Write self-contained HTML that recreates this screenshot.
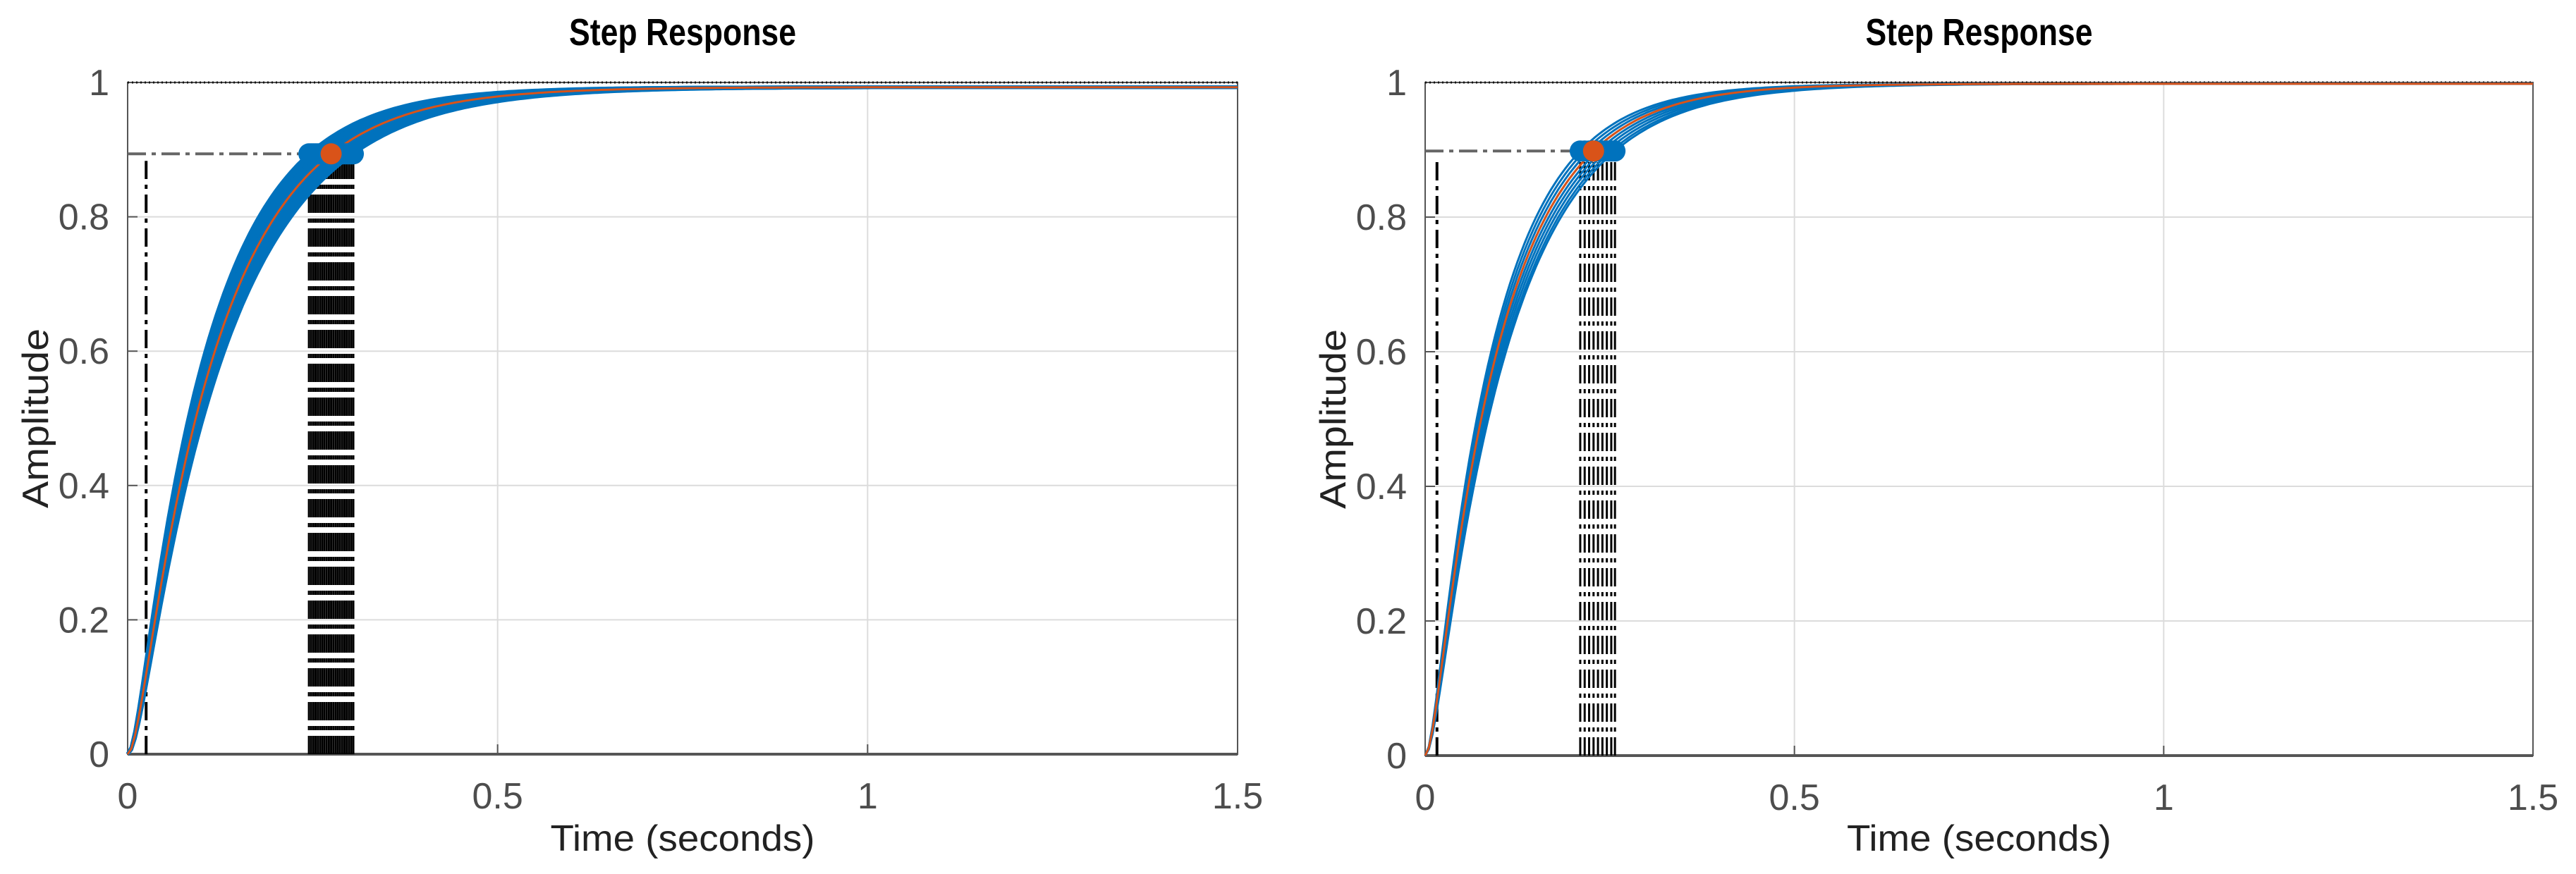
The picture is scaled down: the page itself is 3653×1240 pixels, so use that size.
<!DOCTYPE html>
<html><head><meta charset="utf-8"><style>
html,body{margin:0;padding:0;background:#fff;}
svg{display:block;font-family:"Liberation Sans",sans-serif;}
</style></head><body>
<svg id="c" width="3653" height="1240" viewBox="0 0 3653 1240" xmlns="http://www.w3.org/2000/svg"></svg>
<script>
// ---- data ----
const xTicks = [0, 0.5, 1, 1.5];
const xTickLabels = ["0", "0.5", "1", "1.5"];
const yTicks = [0, 0.2, 0.4, 0.6, 0.8, 1];
const yTickLabels = ["0", "0.2", "0.4", "0.6", "0.8", "1"];
// left plot: 90% rise times of the uncertain-model family, and steady-state gains
const leftRiseTimes = [0.245,0.248,0.251,0.254,0.257,0.26,0.263,0.266,0.269,0.272,0.275,0.278,0.281,0.284,0.287,0.29,0.293,0.296,0.299,0.302,0.305];
const leftGain = [0.993];
const leftNominalRise = [0.275];
const leftTenPct = [0.025];
// right plot
const rightRiseTimes = [0.21,0.216,0.222,0.228,0.234,0.24,0.246,0.252,0.257];
const rightGain = [0.998];
const rightNominalRise = [0.228];
const rightTenPct = [0.016];

const svg = document.getElementById('c');
const NS = 'http://www.w3.org/2000/svg';
function mk(tag, attrs, parent){const e=document.createElementNS(NS,tag);for(const k in attrs)e.setAttribute(k,attrs[k]);(parent||svg).appendChild(e);return e;}

const R = 0.1;
function f(s){return 1-(Math.exp(-s)-R*Math.exp(-s/R))/(1-R);}
let s90=0;{let lo=0,hi=20;for(let i=0;i<60;i++){const m=(lo+hi)/2;if(f(m)<0.9)lo=m;else hi=m;}s90=(lo+hi)/2;}

function drawPlot(cfg){
  const g=mk('g',{});
  
  
  const {x0,x1,y0,y1}=cfg;
  const X=t=>x0+(t/1.5)*(x1-x0);
  const Y=v=>y0-(v/1)*(y0-y1);
  const DASH='26 8 6 8';
  // grid
  xTicks.forEach(t=>{if(t>0&&t<1.5){const l=mk('line',{x1:X(t),x2:X(t),y1:y1,y2:y0,stroke:'#dcdcdc','stroke-width':2},g);}});
  yTicks.forEach(v=>{if(v>0&&v<1){const l=mk('line',{x1:x0,x2:x1,y1:Y(v),y2:Y(v),stroke:'#dcdcdc','stroke-width':2},g);}});
  // box
  const box=mk('rect',{x:x0,y:y1,width:x1-x0,height:y0-y1,fill:'none',stroke:'#555','stroke-width':2},g);
  
  mk('line',{x1:x0,x2:x1,y1:y0,y2:y0,stroke:'#555','stroke-width':4},g);
  // ticks
  xTicks.forEach((t,i)=>{
    mk('line',{x1:X(t),x2:X(t),y1:y0,y2:y0-14,stroke:'#555','stroke-width':2},g);
    const tx=mk('text',{x:X(t),y:y0+77,'font-size':52,fill:'#4d4d4d','text-anchor':'middle'},g);
    tx.textContent=xTickLabels[i];
    
  });
  yTicks.forEach((v,i)=>{
    mk('line',{x1:x0,x2:x0+14,y1:Y(v),y2:Y(v),stroke:'#555','stroke-width':2},g);
    const tx=mk('text',{x:x0-26,y:Y(v)+18,'font-size':52,fill:'#4d4d4d','text-anchor':'end'},g);
    tx.textContent=yTickLabels[i];
    
  });
  // steady-state dotted line at 1
  const ss=mk('line',{x1:x0,x2:x1,y1:Y(1),y2:Y(1),stroke:'#111','stroke-width':3,'stroke-dasharray':'2 4'},g);
  
  const K=cfg.gain[0];
  // rise time vertical dash-dot lines
  cfg.rise.forEach(rt=>{
    const l=mk('line',{x1:X(rt),x2:X(rt),y1:y0,y2:Y(0.9*K)+14,stroke:'#000','stroke-width':3,'stroke-dasharray':DASH},g);
    
  });
  const tp=mk('line',{x1:X(cfg.ten[0]),x2:X(cfg.ten[0]),y1:y0,y2:Y(0.9*K)+10,stroke:'#000','stroke-width':4,'stroke-dasharray':DASH},g);
  
  const hl=mk('line',{x1:x0,x2:X(cfg.rise[0]),y1:Y(0.9*K),y2:Y(0.9*K),stroke:'#666','stroke-width':4,'stroke-dasharray':DASH},g);
  
  // curves
  function path(rt){const tau=rt/s90;let d='';for(let i=0;i<=300;i++){const t=1.5*i/300;d+=(i?'L':'M')+X(t).toFixed(1)+','+Y(K*f(t/tau)).toFixed(1);}return d;}
  cfg.rise.forEach(rt=>{
    const p=mk('path',{d:path(rt),fill:'none',stroke:'#0072BD','stroke-width':cfg.sw},g);
    
  });
  const np=mk('path',{d:path(cfg.nom[0]),fill:'none',stroke:'#D95319','stroke-width':3},g);
  
  cfg.rise.forEach(rt=>{
    const c=mk('circle',{cx:X(rt),cy:Y(0.9*K),r:15,fill:'#0072BD'},g);
    
  });
  const oc=mk('circle',{cx:X(cfg.nom[0]),cy:Y(0.9*K),r:15,fill:'#D95319'},g);
  
  // labels
  const cx=(x0+x1)/2;
  const ti=mk('text',{x:cx,y:64,'font-size':54,'font-weight':'bold','text-anchor':'middle',fill:'#000',textLength:322,lengthAdjust:'spacingAndGlyphs'},g);
  ti.textContent='Step Response';
  const xl=mk('text',{x:cx,y:1207,'font-size':52,'text-anchor':'middle',fill:'#222',textLength:375,lengthAdjust:'spacingAndGlyphs'},g);
  xl.textContent='Time (seconds)';
  const yl=mk('text',{x:0,y:0,'font-size':52,'text-anchor':'middle',fill:'#222',transform:`translate(${cfg.ylx},${(y0+y1)/2}) rotate(-90)`,textLength:255,lengthAdjust:'spacingAndGlyphs'},g);
  yl.textContent='Amplitude';
}
drawPlot({name:'left-step-plot',x0:181,x1:1755,y0:1070,y1:117,rise:leftRiseTimes,gain:leftGain,nom:leftNominalRise,ten:leftTenPct,sw:5,ylx:68});
drawPlot({name:'right-step-plot',x0:2021,x1:3592,y0:1072,y1:117,rise:rightRiseTimes,gain:rightGain,nom:rightNominalRise,ten:rightTenPct,sw:3,ylx:1908});
</script>
</body></html>
